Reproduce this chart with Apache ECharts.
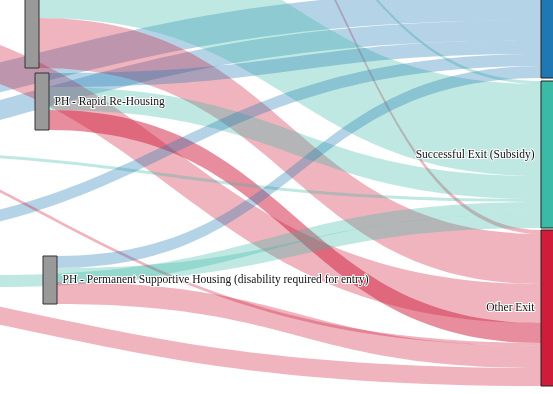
<!DOCTYPE html>
<html><head><meta charset="utf-8">
<script src="https://cdn.jsdelivr.net/npm/echarts@6/dist/echarts.min.js"></script>
<style>html,body{margin:0;padding:0;background:#fff}#c{width:553px;height:394px}</style>
</head><body><div id="c"></div>
<script>
// ---- data ----
const nodeNames = [
  'Prior: Unknown', 'Prior: Other', 'Prior: Shelter A', 'Prior: Shelter B',
  'PH - Housing Only', 'Prior: Street', 'PH - Rapid Re-Housing', 'Prior: Family',
  'Prior: Hotel', 'Prior: Friends', 'Prior: Jail',
  'PH - Permanent Supportive Housing (disability required for entry)', 'Prior: Hospital',
  'Successful Exit (No Subsidy)', 'Successful Exit (Subsidy)', 'Other Exit'
];
const visibleLeft = ['PH - Housing Only', 'PH - Rapid Re-Housing',
  'PH - Permanent Supportive Housing (disability required for entry)'];
const exitNames = ['Successful Exit (No Subsidy)', 'Successful Exit (Subsidy)', 'Other Exit'];
const exitColors = ['#1f78b4', '#3cbaa8', '#cf1c3b'];

const linkSources = [
  'Prior: Unknown', 'Prior: Other', 'Prior: Shelter A', 'Prior: Shelter B',
  'PH - Housing Only', 'PH - Housing Only', 'Prior: Street',
  'PH - Rapid Re-Housing', 'PH - Rapid Re-Housing', 'PH - Rapid Re-Housing',
  'Prior: Family', 'Prior: Hotel', 'Prior: Friends', 'Prior: Jail',
  'PH - Permanent Supportive Housing (disability required for entry)',
  'PH - Permanent Supportive Housing (disability required for entry)',
  'PH - Permanent Supportive Housing (disability required for entry)',
  'Prior: Hospital'
];
const linkTargets = [
  'Other Exit', 'Successful Exit (Subsidy)', 'Successful Exit (No Subsidy)', 'Successful Exit (No Subsidy)',
  'Successful Exit (Subsidy)', 'Other Exit', 'Other Exit',
  'Successful Exit (No Subsidy)', 'Successful Exit (Subsidy)', 'Other Exit',
  'Successful Exit (Subsidy)', 'Successful Exit (No Subsidy)', 'Successful Exit (Subsidy)', 'Other Exit',
  'Successful Exit (No Subsidy)', 'Successful Exit (Subsidy)', 'Other Exit',
  'Other Exit'
];
const linkValues = [4, 3, 30, 20, 92, 50, 39, 14, 23, 20, 3, 12, 12, 3, 12, 14, 22, 18];

// ---- layout (node placement in pixels, view is a crop of a wider diagram) ----
const W = 553;
const nodePos = {
  'Prior: Unknown': [146, -170], 'Prior: Other': [166, -120],
  'Prior: Shelter A': [-471, 114], 'Prior: Shelter B': [-471, 157],
  'PH - Housing Only': [25, -74], 'Prior: Street': [-214, 10.5],
  'PH - Rapid Re-Housing': [35, 73], 'Prior: Family': [-214, 149],
  'Prior: Hotel': [-214, 232], 'Prior: Friends': [-19, 275], 'Prior: Jail': [-471, 80],
  'PH - Permanent Supportive Housing (disability required for entry)': [43, 256],
  'Prior: Hospital': [-471, 263],
  'Successful Exit (No Subsidy)': [541, -10], 'Successful Exit (Subsidy)': [541, 81],
  'Other Exit': [541, 230]
};
const darkLinks = ['PH - Rapid Re-Housing>Other Exit'];

const H = linkValues.reduce((a, b) => a + b, 0);
const labelFont = {fontFamily: 'Liberation Serif', fontSize: 11.5, color: '#111',
  textBorderColor: '#fff', textBorderWidth: 2};

const nodes = nodeNames.map(n => {
  const p = nodePos[n];
  const o = {name: n, localX: p[0] / W, localY: p[1] / H};
  const ei = exitNames.indexOf(n);
  if (ei >= 0) {
    o.itemStyle = {color: exitColors[ei], borderColor: '#222', borderWidth: 1};
    o.label = Object.assign({show: ei > 0, position: 'left', distance: 6}, labelFont);
  } else if (visibleLeft.indexOf(n) >= 0) {
    o.itemStyle = {color: '#999', borderColor: '#333', borderWidth: 1};
    o.label = Object.assign({show: n !== 'PH - Housing Only', position: 'right', distance: 5}, labelFont);
  } else {
    o.itemStyle = {color: '#999', opacity: 0};
    o.label = {show: false};
  }
  return o;
});
const links = linkValues.map((v, i) => {
  const key = linkSources[i] + '>' + linkTargets[i];
  const l = {source: linkSources[i], target: linkTargets[i], value: v};
  if (darkLinks.indexOf(key) >= 0) l.lineStyle = {opacity: 0.5};
  return l;
});

const chart = echarts.init(document.getElementById('c'), null, {renderer: 'canvas'});
chart.setOption({
  animation: false,
  backgroundColor: '#fff',
  series: [{
    type: 'sankey',
    left: 0, top: 0, width: W, height: H,
    nodeWidth: 14, nodeGap: 0,
    layoutIterations: 0,
    draggable: false,
    emphasis: {disabled: true},
    data: nodes,
    links: links,
    lineStyle: {color: 'target', opacity: 0.33, curveness: 0.5},
    label: labelFont
  }]
});
</script></body></html>
